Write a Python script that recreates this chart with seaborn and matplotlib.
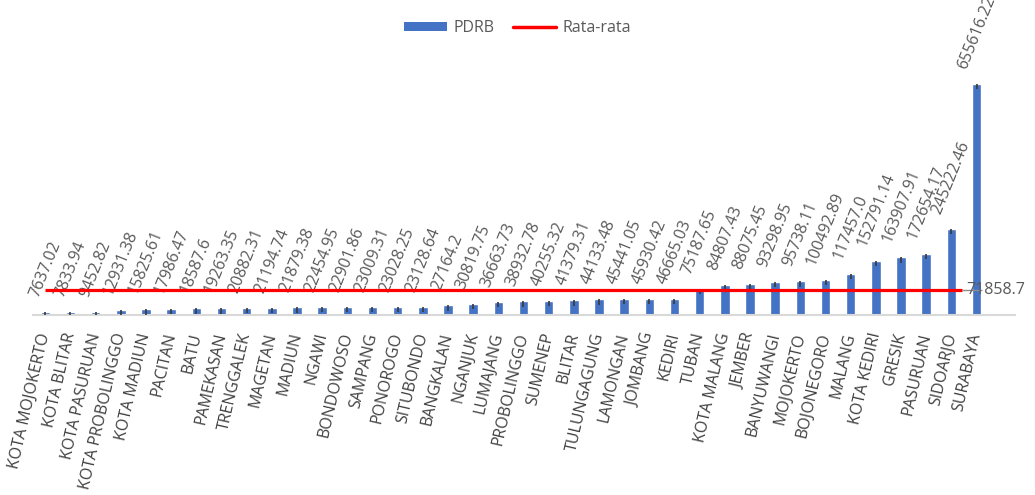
import matplotlib
matplotlib.use("Agg")
import matplotlib.pyplot as plt
from matplotlib.patches import Patch
from matplotlib.lines import Line2D
import seaborn as sns
import pandas as pd

# PDRB per kabupaten/kota, urut dari terkecil
regions = [
    "KOTA MOJOKERTO", "KOTA BLITAR", "KOTA PASURUAN", "KOTA PROBOLINGGO",
    "KOTA MADIUN", "PACITAN", "BATU", "PAMEKASAN", "TRENGGALEK", "MAGETAN",
    "MADIUN", "NGAWI", "BONDOWOSO", "SAMPANG", "PONOROGO", "SITUBONDO",
    "BANGKALAN", "NGANJUK", "LUMAJANG", "PROBOLINGGO", "SUMENEP", "BLITAR",
    "TULUNGAGUNG", "LAMONGAN", "JOMBANG", "KEDIRI", "TUBAN", "KOTA MALANG",
    "JEMBER", "BANYUWANGI", "MOJOKERTO", "BOJONEGORO", "MALANG",
    "KOTA KEDIRI", "GRESIK", "PASURUAN", "SIDOARJO", "SURABAYA",
]
pdrb = [
    7637.02, 7833.94, 9452.82, 12931.38, 15825.61, 17986.47, 18587.6,
    19263.35, 20882.31, 21194.74, 21879.38, 22454.95, 22901.86, 23009.31,
    23028.25, 23128.64, 27164.2, 30819.75, 36663.73, 38932.78, 40255.32,
    41379.31, 44133.48, 45441.05, 45930.42, 46665.03, 75187.65, 84807.43,
    88075.45, 93298.95, 95738.11, 100492.89, 117457.0, 152791.14,
    163907.91, 172654.17, 245222.46, 655616.22,
]
rata_rata = 71858.7

BAR_BLUE = "#4472C4"
LINE_RED = "#FF0000"
TEXT_GRAY = "#595959"
TICK_GRAY = "#404040"
ERR_DOWN = 15000  # small dark marker at each bar top

df = pd.DataFrame({"wilayah": regions, "pdrb": pdrb})

sns.set_theme(style="white")
plt.rcParams["font.family"] = ["Open Sans", "DejaVu Sans"]

fig = plt.figure(figsize=(10.35, 4.95), dpi=100)
ax = fig.add_axes([0.0316, 0.3636, 0.9491, 0.5125])

sns.barplot(data=df, x="wilayah", y="pdrb", color=BAR_BLUE, width=0.38,
            saturation=1, ax=ax)

xs = list(range(len(regions)))
ax.errorbar(xs, pdrb, yerr=[[ERR_DOWN] * len(pdrb), [0] * len(pdrb)],
            fmt="none", ecolor="#3A3A3A", elinewidth=1.2, capsize=0, zorder=3)

# average line with its value label
n = len(regions)
ax.hlines(rata_rata, 0, n - 1.58, color=LINE_RED, lw=2.3, zorder=4)
ax.hlines(rata_rata, n - 1.58, n - 0.8, color="#8C8C8C", lw=1.0, zorder=4)
ax.text(n - 0.22, rata_rata, f"{rata_rata}", ha="center", va="center",
        fontsize=11.5, color=TEXT_GRAY, zorder=5)

# value labels above bars
for i, v in enumerate(pdrb):
    ax.annotate(f"{v}", (i, v), xytext=(0, 9), textcoords="offset points",
                ha="center", va="bottom", rotation=68, fontsize=11.5,
                color=TEXT_GRAY, annotation_clip=False)

ax.set_xlim(-0.5, n + 0.53)
ax.set_ylim(0, 720000)
ax.set_xlabel("")
ax.set_ylabel("")
ax.set_yticks([])
for side in ["left", "right", "top"]:
    ax.spines[side].set_visible(False)
ax.spines["bottom"].set_color("#D9D9D9")
ax.spines["bottom"].set_linewidth(1.5)

ax.tick_params(axis="x", length=0, pad=13)
for lbl in ax.get_xticklabels():
    lbl.set_rotation(77)
    lbl.set_ha("right")
    lbl.set_va("center")
    lbl.set_rotation_mode("anchor")
    lbl.set_fontsize(11.5)
    lbl.set_color(TICK_GRAY)

handles = [
    Patch(facecolor=BAR_BLUE, edgecolor="none", label="PDRB"),
    Line2D([0], [0], color=LINE_RED, lw=2.5, label="Rata-rata"),
]
fig.legend(handles=handles, loc="center", bbox_to_anchor=(0.5, 0.943),
           ncol=2, frameon=False, fontsize=11.5, labelcolor=TEXT_GRAY,
           handlelength=2.7, handleheight=0.55, handletextpad=0.4,
           columnspacing=1.2)

fig.savefig("out.png", dpi=100)
